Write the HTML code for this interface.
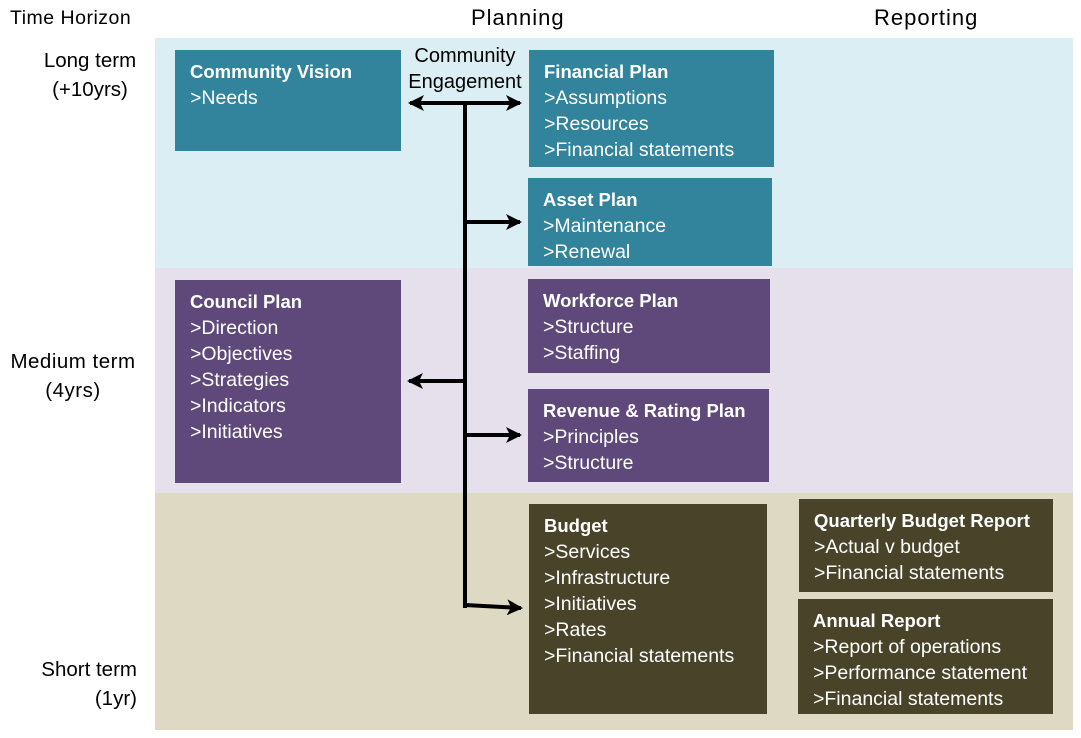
<!DOCTYPE html>
<html><head><style>
body{margin:0;width:1081px;height:738px;background:#fff;position:relative;font-family:"Liberation Sans",sans-serif;overflow:hidden}
.a{position:absolute}
.band{position:absolute;left:155px;width:918px}
.box{position:absolute;color:#fff;font-size:19.5px;line-height:26px;padding:9px 0 0 15px;box-sizing:border-box;white-space:nowrap}
.box b{font-weight:bold;font-size:18.5px}
.t{background:#31849b}.p{background:#5f497a}.o{background:#494429}
.lbl{position:absolute;font-size:20.5px;color:#000;text-align:center;line-height:29px;white-space:nowrap}
</style></head><body>
<div class="band" style="top:38px;height:230px;background:#dbeef3"></div>
<div class="band" style="top:268px;height:225px;background:#e5e0ec"></div>
<div class="band" style="top:493px;height:237px;background:#ddd9c3"></div>

<div class="lbl" style="left:10px;top:4px;font-size:19.5px;letter-spacing:0.5px">Time Horizon</div>
<div class="lbl" style="left:471px;top:3px;font-size:22px;letter-spacing:1px">Planning</div>
<div class="lbl" style="left:874px;top:3px;font-size:22px;letter-spacing:1px">Reporting</div>
<div class="lbl" style="left:30px;top:46px;width:120px">Long term<br>(+10yrs)</div>
<div class="lbl" style="left:0px;top:347px;width:146px;letter-spacing:0.5px">Medium term<br>(4yrs)</div>
<div class="lbl" style="left:13px;top:655px;width:124px;text-align:right">Short term<br>(1yr)</div>
<div class="lbl" style="left:405px;top:43px;width:120px;font-size:20px;line-height:26px">Community<br>Engagement</div>

<div class="box t" style="left:175px;top:50px;width:226px;height:101px"><b>Community Vision</b><br>&gt;Needs</div>
<div class="box t" style="left:529px;top:50px;width:245px;height:117px"><b>Financial Plan</b><br>&gt;Assumptions<br>&gt;Resources<br>&gt;Financial statements</div>
<div class="box t" style="left:528px;top:178px;width:244px;height:88px"><b>Asset Plan</b><br>&gt;Maintenance<br>&gt;Renewal</div>
<div class="box p" style="left:175px;top:280px;width:226px;height:203px"><b>Council Plan</b><br>&gt;Direction<br>&gt;Objectives<br>&gt;Strategies<br>&gt;Indicators<br>&gt;Initiatives</div>
<div class="box p" style="left:528px;top:279px;width:242px;height:94px"><b>Workforce Plan</b><br>&gt;Structure<br>&gt;Staffing</div>
<div class="box p" style="left:528px;top:389px;width:241px;height:93px"><b>Revenue &amp; Rating Plan</b><br>&gt;Principles<br>&gt;Structure</div>
<div class="box o" style="left:529px;top:504px;width:238px;height:210px"><b>Budget</b><br>&gt;Services<br>&gt;Infrastructure<br>&gt;Initiatives<br>&gt;Rates<br>&gt;Financial statements</div>
<div class="box o" style="left:799px;top:499px;width:254px;height:93px"><b>Quarterly Budget Report</b><br>&gt;Actual v budget<br>&gt;Financial statements</div>
<div class="box o" style="left:798px;top:599px;width:255px;height:115px"><b>Annual Report</b><br>&gt;Report of operations<br>&gt;Performance statement<br>&gt;Financial statements</div>

<svg class="a" style="left:0;top:0" width="1081" height="738">
<defs><marker id="m" markerWidth="4" markerHeight="4" refX="3.5" refY="2" orient="auto" markerUnits="strokeWidth"><path d="M0,0 L4,2 L0,4 L1,2 z" fill="#000"/></marker></defs>
<g stroke="#000" stroke-width="4" fill="none">
<line x1="465" y1="101" x2="465" y2="608"/>
<line x1="465" y1="103" x2="410" y2="103" marker-end="url(#m)"/>
<line x1="465" y1="103" x2="520" y2="103" marker-end="url(#m)"/>
<line x1="465" y1="222" x2="520" y2="222" marker-end="url(#m)"/>
<line x1="465" y1="381" x2="409" y2="381" marker-end="url(#m)"/>
<line x1="465" y1="435" x2="520" y2="435" marker-end="url(#m)"/>
<line x1="465" y1="605" x2="521" y2="608" marker-end="url(#m)"/>
</g></svg>
</body></html>
